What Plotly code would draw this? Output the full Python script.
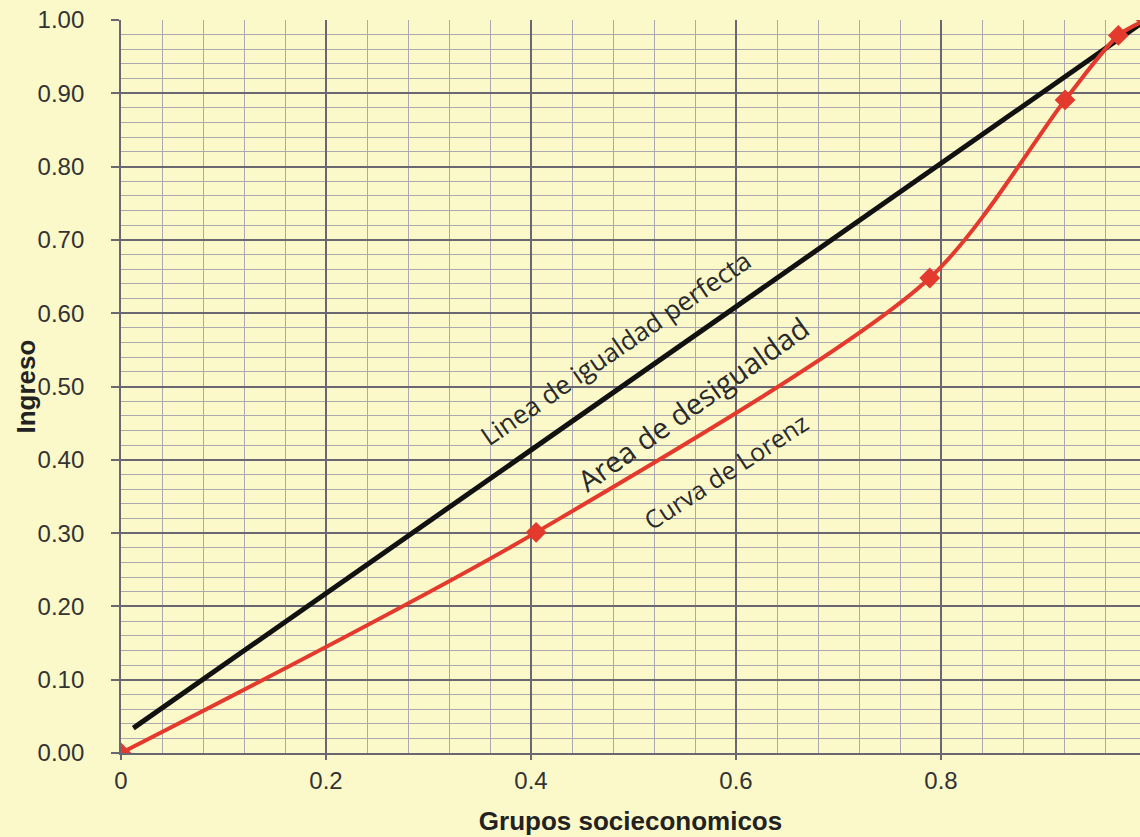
import plotly.graph_objects as go

# Lorenz curve points (socioeconomic group share, income share)
lorenz_x = [0.0, 0.405, 0.789, 0.921, 0.973, 1.0]
lorenz_y = [0.0, 0.301, 0.648, 0.891, 0.979, 1.0]

# line of perfect equality as drawn
equality_x = [0.012, 1.0]
equality_y = [0.034, 1.0]

x_ticks = [0, 0.2, 0.4, 0.6, 0.8]
x_tick_text = ['0', '0.2', '0.4', '0.6', '0.8']
y_ticks = [0.0, 0.1, 0.2, 0.3, 0.4, 0.5, 0.6, 0.7, 0.8, 0.9, 1.0]

bg = '#fbf9c9'
major_grid = '#6b6772'
minor_grid = '#aca8b0'
text_col = '#333333'

fig = go.Figure()

fig.add_trace(go.Scatter(
    x=equality_x, y=equality_y,
    mode='lines',
    line=dict(color='#111111', width=5),
    showlegend=False
))

fig.add_trace(go.Scatter(
    x=lorenz_x, y=lorenz_y,
    mode='lines+markers',
    line=dict(color='#e43a2e', width=4, shape='spline', smoothing=0.8),
    marker=dict(symbol='diamond', size=16, color='#e43a2e'),
    showlegend=False
))

# rotated labels
labels = [
    ('Linea de igualdad perfecta', 0.482, 0.553, -34.5, 26),
    ('Area de desigualdad', 0.558, 0.477, -35.5, 29),
    ('Curva de Lorenz', 0.590, 0.385, -33, 25),
]
for txt, lx, ly, ang, sz in labels:
    fig.add_annotation(
        x=lx, y=ly, text=txt, showarrow=False, textangle=ang,
        font=dict(family='Open Sans', size=sz, color='#2a2a2a')
    )

# y axis title as annotation so it sits where the original has it
fig.add_annotation(
    xref='paper', yref='paper', x=0, y=0.5, xshift=-96,
    xanchor='center', yanchor='middle',
    text='<b>Ingreso</b>', showarrow=False, textangle=-90,
    font=dict(family='Liberation Sans', size=26, color='#222222')
)

fig.update_xaxes(
    range=[0, 0.9941],
    tickvals=x_ticks, ticktext=x_tick_text,
    showgrid=True, gridcolor=major_grid, gridwidth=1.8,
    minor=dict(dtick=0.04, tick0=0, showgrid=True, gridcolor=minor_grid, gridwidth=1.4),
    showline=True, linecolor=major_grid, linewidth=1.8,
    ticks='outside', ticklen=5, tickcolor=major_grid, tickwidth=1.5,
    zeroline=False,
    tickfont=dict(family='Liberation Sans', size=24, color=text_col),
    title=dict(text='<b>Grupos socieconomicos</b>',
               font=dict(family='Liberation Sans', size=26, color='#222222'),
               standoff=19)
)

fig.update_yaxes(
    range=[0, 1.0],
    tickvals=y_ticks, tickformat='.2f',
    showgrid=True, gridcolor=major_grid, gridwidth=1.8,
    minor=dict(dtick=0.02, tick0=0, showgrid=True, gridcolor=minor_grid, gridwidth=1.4),
    showline=True, linecolor=major_grid, linewidth=1.8,
    ticks='outside', ticklen=8, tickcolor=major_grid, tickwidth=1.5,
    ticklabelstandoff=22,
    zeroline=False,
    tickfont=dict(family='Liberation Sans', size=24, color=text_col)
)

fig.update_layout(
    width=1140, height=837,
    margin=dict(l=121, r=0, t=20, b=84),
    paper_bgcolor=bg, plot_bgcolor=bg,
    showlegend=False
)

fig.write_html("out.html", config={'displayModeBar': False},
               post_script="document.body.style.margin='0';document.body.style.background='#fbf9c9';")
